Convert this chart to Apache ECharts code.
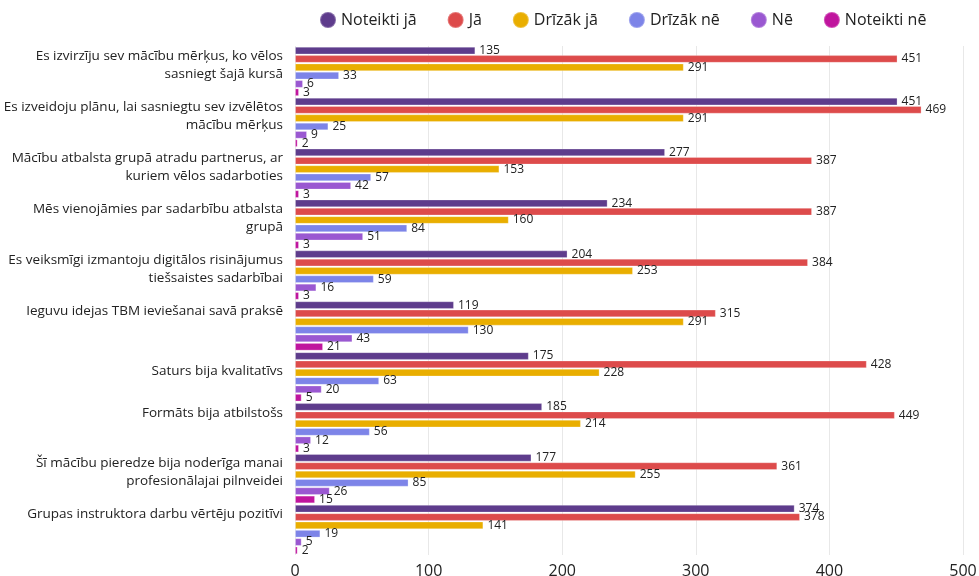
<!DOCTYPE html>
<html>
<head>
<meta charset="utf-8">
<script src="https://cdn.jsdelivr.net/npm/echarts@6/dist/echarts.min.js"></script>
<style>
  html, body { margin: 0; padding: 0; background: #fff; }
  #chart { width: 979px; height: 576px; }
</style>
</head>
<body>
<div id="chart"></div>
<script>
// Survey statements (line breaks as they wrap on the axis)
const categories = [
  'Es izvirzīju sev mācību mērķus, ko vēlos\nsasniegt šajā kursā',
  'Es izveidoju plānu, lai sasniegtu sev izvēlētos\nmācību mērķus',
  'Mācību atbalsta grupā atradu partnerus, ar\nkuriem vēlos sadarboties',
  'Mēs vienojāmies par sadarbību atbalsta\ngrupā',
  'Es veiksmīgi izmantoju digitālos risinājumus\ntiešsaistes sadarbībai',
  'Ieguvu idejas TBM ieviešanai savā praksē\n',
  'Saturs bija kvalitatīvs',
  'Formāts bija atbilstošs\n',
  'Šī mācību pieredze bija noderīga manai\nprofesionālajai pilnveidei',
  'Grupas instruktora darbu vērtēju pozitīvi\n'
];

const seriesNames = ['Noteikti jā', 'Jā', 'Drīzāk jā', 'Drīzāk nē', 'Nē', 'Noteikti nē'];

const noteiktiJa  = [135, 451, 277, 234, 204, 119, 175, 185, 177, 374];
const ja          = [451, 469, 387, 387, 384, 315, 428, 449, 361, 378];
const drizakJa    = [291, 291, 153, 160, 253, 291, 228, 214, 255, 141];
const drizakNe    = [33, 25, 57, 84, 59, 130, 63, 56, 85, 19];
const ne          = [6, 9, 42, 51, 16, 43, 20, 12, 26, 5];
const noteiktiNe  = [3, 2, 3, 3, 3, 21, 5, 3, 15, 2];

const axisTicks = [0, 100, 200, 300, 400, 500];

const colors = ['#5e3c8c', '#dd4b4b', '#e9ae00', '#7d84e8', '#9a58d1', '#c0159e'];
const values = [noteiktiJa, ja, drizakJa, drizakNe, ne, noteiktiNe];

const FONT = '"Open Sans", "Noto Sans", sans-serif';

const chart = echarts.init(document.getElementById('chart'));
chart.setOption({
  animation: false,
  color: colors,
  textStyle: { fontFamily: FONT },
  legend: {
    top: 6,
    left: 314,
    itemGap: 30,
    itemWidth: 16,
    itemHeight: 16,
    icon: 'circle',
    textStyle: { fontSize: 16, color: '#222', fontFamily: FONT },
    data: seriesNames
  },
  grid: {
    left: 295, right: 16, top: 46, bottom: 21,
    containLabel: false,
    outerBoundsMode: 'none'
  },
  xAxis: {
    type: 'value',
    min: axisTicks[0],
    max: axisTicks[axisTicks.length - 1],
    interval: 100,
    axisLine: { show: false },
    axisTick: { show: false },
    axisLabel: { fontSize: 16, color: '#222', margin: 8, fontFamily: FONT },
    splitLine: { lineStyle: { color: '#e8e8e8', width: 1 } }
  },
  yAxis: {
    type: 'category',
    inverse: true,
    data: categories,
    axisLine: { show: false },
    axisTick: { show: false },
    axisLabel: {
      fontSize: 13.5, color: '#222', margin: 12, lineHeight: 18,
      align: 'right', fontFamily: FONT,
      // a short spacer line under each label lifts it slightly above the band centre
      formatter: (v) => v + '\n{s| }',
      rich: { s: { lineHeight: 12, fontSize: 6 } }
    }
  },
  series: seriesNames.map((name, i) => ({
    name,
    type: 'bar',
    data: values[i],
    barCategoryGap: '3%',
    barGap: '8%',
    itemStyle: { color: colors[i], borderColor: 'rgba(255,255,255,0.25)', borderWidth: 1 },
    label: {
      show: true,
      position: 'right',
      distance: 4,
      fontSize: 12,
      color: '#222',
      fontFamily: FONT
    }
  }))
});
</script>
</body>
</html>
